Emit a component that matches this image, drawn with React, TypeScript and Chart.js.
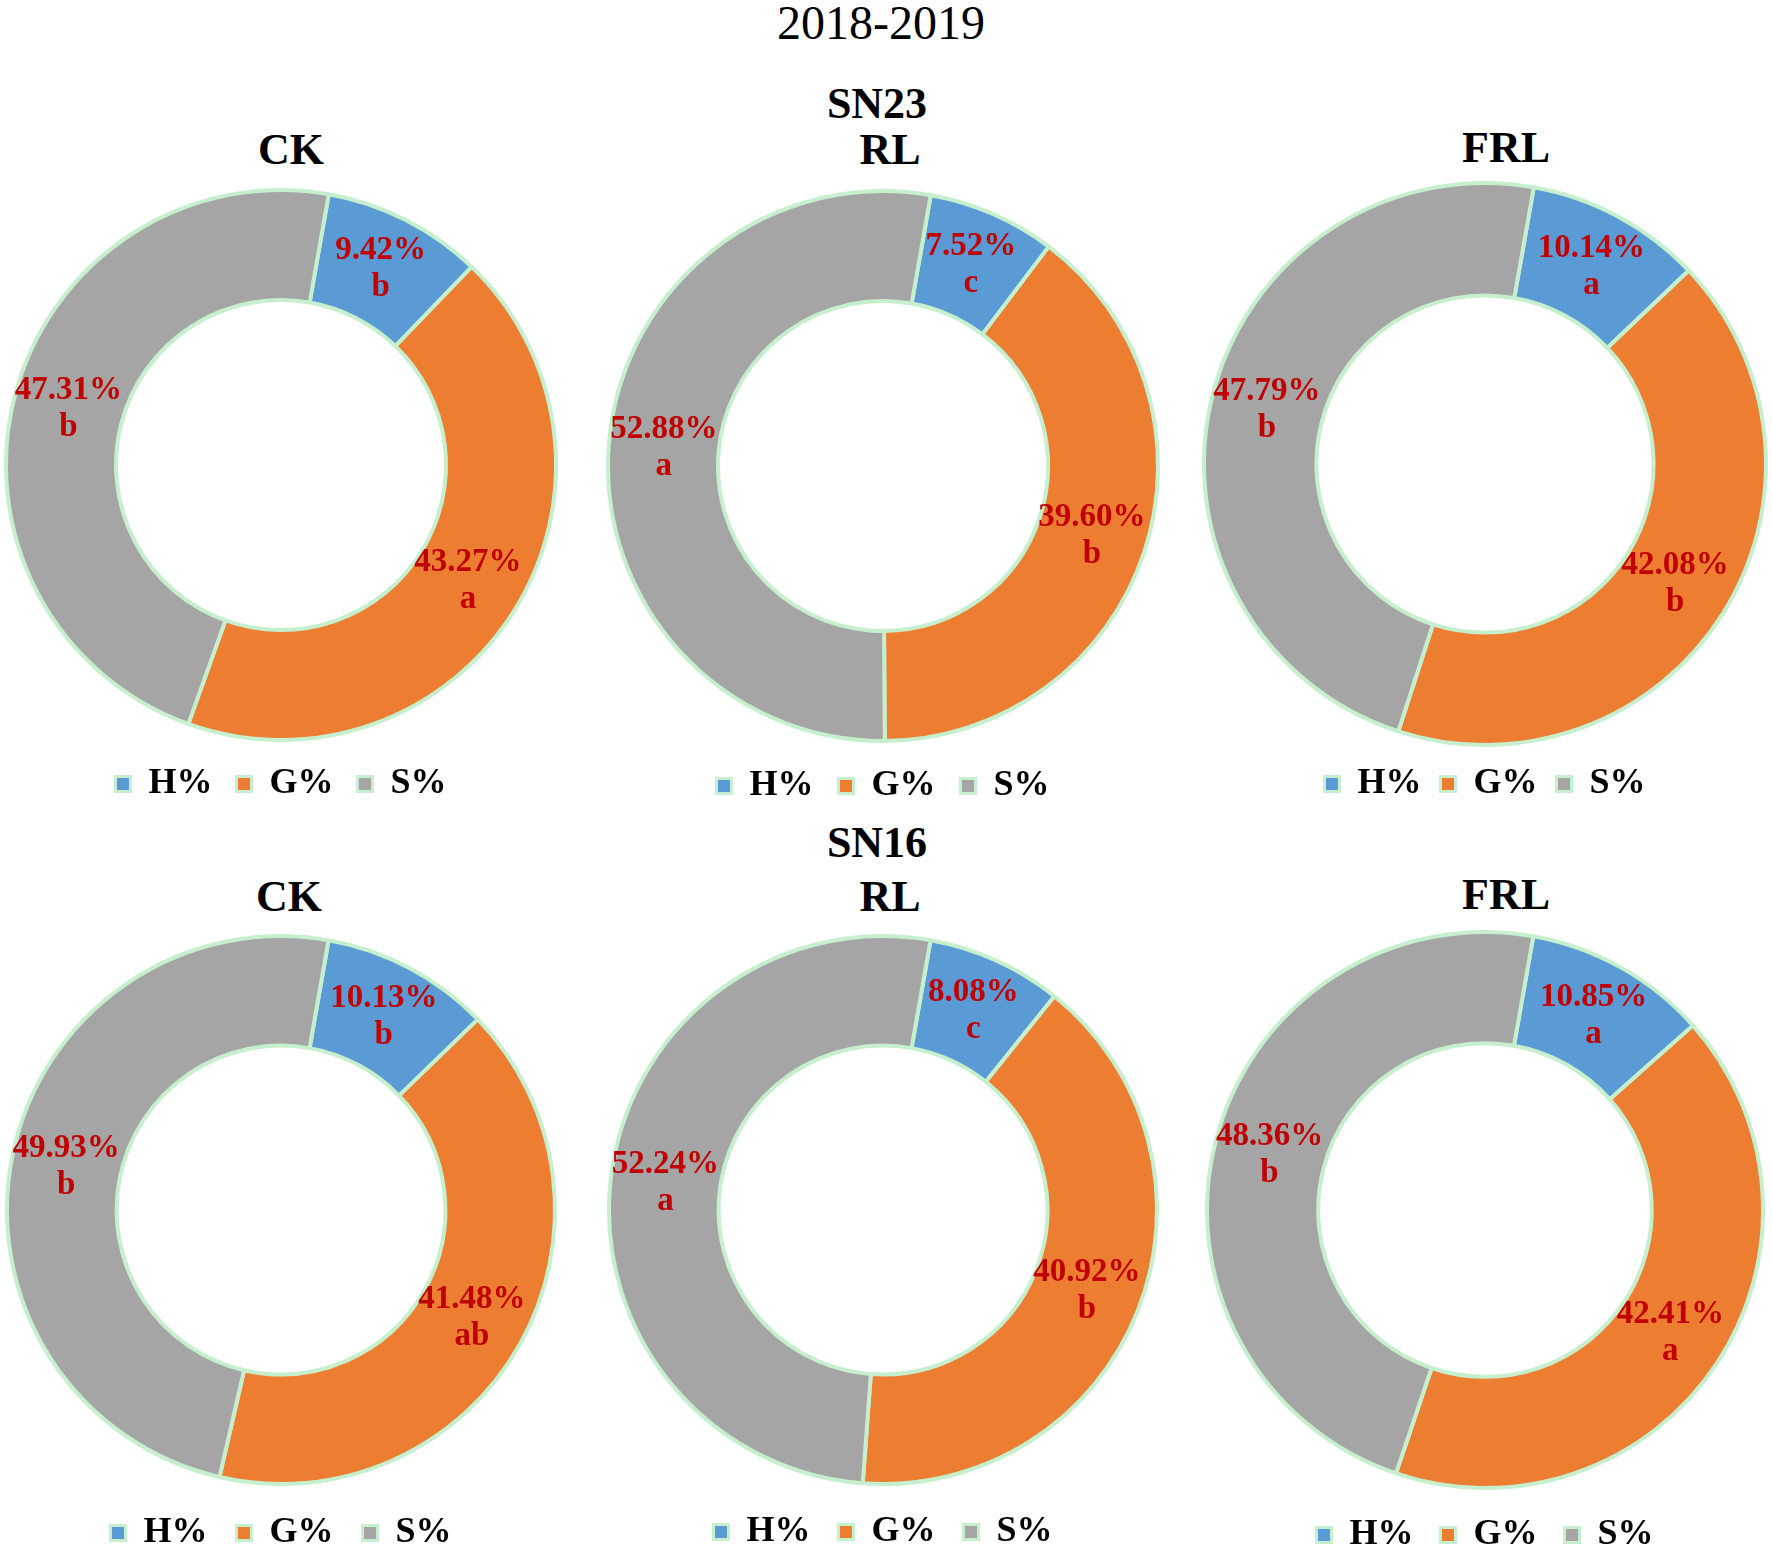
import React, { useEffect, useRef } from 'react';
import { Chart, registerables } from 'chart.js';

Chart.register(...registerables);

// ---------- data ----------
const mainTitle = '2018-2019';
const groupNames = ['SN23', 'SN16'];
const treatmentNames = ['CK', 'RL', 'FRL'];
const categories = ['H%', 'G%', 'S%'];

const sn23CK = [9.42, 43.27, 47.31];
const sn23RL = [7.52, 39.6, 52.88];
const sn23FRL = [10.14, 42.08, 47.79];
const sn16CK = [10.13, 41.48, 49.93];
const sn16RL = [8.08, 40.92, 52.24];
const sn16FRL = [10.85, 42.41, 48.36];

const sn23CKSig = ['b', 'a', 'b'];
const sn23RLSig = ['c', 'b', 'a'];
const sn23FRLSig = ['a', 'b', 'b'];
const sn16CKSig = ['b', 'ab', 'b'];
const sn16RLSig = ['c', 'b', 'a'];
const sn16FRLSig = ['a', 'a', 'b'];

// ---------- styles ----------
const sliceColors = ['#5b9bd5', '#ed7d31', '#a5a5a5'];
const edgeColor = '#c6efce';
const labelColor = '#c00000';
const FONT = '"Liberation Serif", "Times New Roman", serif';

// layout per panel (page pixels)
const panels = [
  { values: sn23CK, sig: sn23CKSig, title: treatmentNames[0], cx: 281, cy: 465, R: 277, tx: 291, ty: 150, legendY: 784 },
  { values: sn23RL, sig: sn23RLSig, title: treatmentNames[1], cx: 883, cy: 466, R: 277, tx: 890, ty: 150, legendY: 786 },
  { values: sn23FRL, sig: sn23FRLSig, title: treatmentNames[2], cx: 1485, cy: 464, R: 283, tx: 1506, ty: 148, legendY: 784 },
  { values: sn16CK, sig: sn16CKSig, title: treatmentNames[0], cx: 281, cy: 1210, R: 276, tx: 289, ty: 897, legendY: 1533 },
  { values: sn16RL, sig: sn16RLSig, title: treatmentNames[1], cx: 883, cy: 1210, R: 276, tx: 890, ty: 897, legendY: 1532 },
  { values: sn16FRL, sig: sn16FRLSig, title: treatmentNames[2], cx: 1485, cy: 1210, R: 280, tx: 1506, ty: 895, legendY: 1535 },
];

const CANVAS_W = 590;
const LEGEND_SIZE = 36;
const BORDER = 4;

const sigLabelPlugin = {
  id: 'sigLabels',
  afterDatasetsDraw(chart: any, _args: any, opts: any) {
    const meta = chart.getDatasetMeta(0);
    const vals = chart.data.datasets[0].data as number[];
    const letters = opts.letters as string[];
    const ctx = chart.ctx as CanvasRenderingContext2D;
    ctx.save();
    ctx.font = `bold 33px ${FONT}`;
    ctx.fillStyle = labelColor;
    ctx.textAlign = 'center';
    ctx.textBaseline = 'middle';
    meta.data.forEach((arc: any, i: number) => {
      const p = arc.getProps(['x', 'y', 'startAngle', 'endAngle', 'innerRadius', 'outerRadius'], true);
      const mid = (p.startAngle + p.endAngle) / 2;
      const r = (p.innerRadius + p.outerRadius) / 2;
      const px = p.x + Math.cos(mid) * r;
      const py = p.y + Math.sin(mid) * r;
      ctx.fillText(vals[i].toFixed(2) + '%', px, py - 18);
      ctx.fillText(letters[i], px, py + 19);
    });
    ctx.restore();
  },
};

function DonutPanel(props: { panel: typeof panels[number] }) {
  const { panel } = props;
  const ref = useRef<HTMLCanvasElement | null>(null);

  const top = panel.cy - panel.R;
  const legendPad = panel.legendY - (panel.cy + panel.R) - LEGEND_SIZE / 2;
  const height = 2 * panel.R + LEGEND_SIZE + legendPad + 10;

  useEffect(() => {
    if (!ref.current) return;
    const chart = new Chart(ref.current, {
      type: 'doughnut',
      data: {
        labels: categories,
        datasets: [
          {
            data: panel.values,
            backgroundColor: sliceColors,
            borderColor: edgeColor,
            borderWidth: BORDER,
            hoverOffset: 0,
            offset: 0,
          },
        ],
      },
      options: {
        responsive: false,
        animation: false,
        devicePixelRatio: 1,
        rotation: 10,
        cutout: '60%',
        layout: { padding: 0 },
        plugins: {
          title: { display: false },
          legend: {
            display: true,
            position: 'bottom',
            labels: {
              color: '#000',
              font: { family: FONT, size: LEGEND_SIZE, weight: 'bold' },
              boxWidth: 15,
              boxHeight: 15,
              padding: legendPad,
              generateLabels: (c: any) => {
                const base = (Chart as any).overrides.doughnut.plugins.legend.labels.generateLabels(c);
                return base.map((it: any) => ({ ...it, lineWidth: 3, strokeStyle: edgeColor }));
              },
            },
          },
          tooltip: { enabled: false },
          sigLabels: { letters: panel.sig },
        } as any,
      },
      plugins: [sigLabelPlugin as any],
    });
    return () => chart.destroy();
  }, []);

  return (
    <canvas
      ref={ref}
      width={CANVAS_W}
      height={Math.round(height)}
      style={{
        position: 'absolute',
        left: panel.cx - CANVAS_W / 2,
        top: Math.round(top),
        width: CANVAS_W,
        height: Math.round(height),
      }}
    />
  );
}

function TextAt(props: { x: number; y: number; size: number; bold?: boolean; children: React.ReactNode }) {
  return (
    <div
      style={{
        position: 'absolute',
        left: props.x,
        top: props.y,
        transform: 'translate(-50%, -50%)',
        fontFamily: FONT,
        fontSize: props.size,
        fontWeight: props.bold ? 'bold' : 'normal',
        lineHeight: 1,
        whiteSpace: 'nowrap',
        color: '#000',
      }}
    >
      {props.children}
    </div>
  );
}

export default function App() {
  return (
    <div
      style={{
        position: 'fixed',
        left: 0,
        top: 0,
        width: 1772,
        height: 1551,
        overflow: 'hidden',
        background: '#fff',
      }}
    >
      <TextAt x={881} y={23} size={48}>{mainTitle}</TextAt>
      <TextAt x={877} y={104} size={44} bold>{groupNames[0]}</TextAt>
      <TextAt x={877} y={843} size={44} bold>{groupNames[1]}</TextAt>
      {panels.map((p, i) => (
        <DonutPanel key={i} panel={p} />
      ))}
      {panels.map((p, i) => (
        <TextAt key={'t' + i} x={p.tx} y={p.ty} size={44} bold>{p.title}</TextAt>
      ))}
    </div>
  );
}
